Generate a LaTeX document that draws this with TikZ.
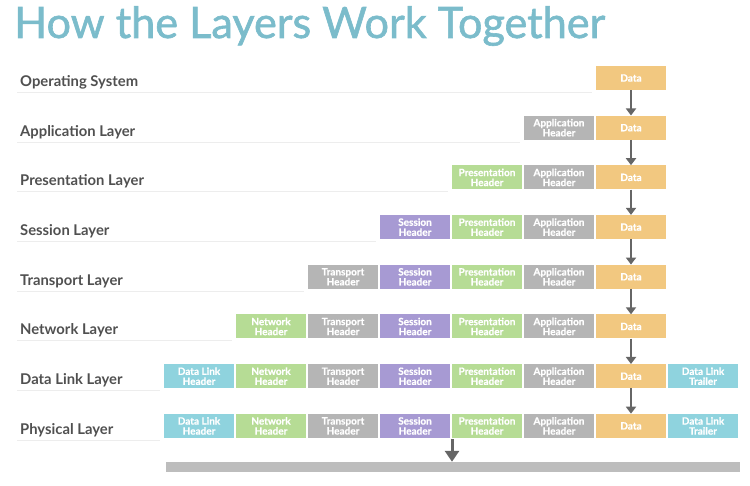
\documentclass[tikz,border=0pt]{standalone}
\usepackage{fontspec}
\setmainfont{Lato}
\newfontfamily\titlefont[FakeBold=1.4]{Lato}
\newfontfamily\pdufont[BoldFeatures={FakeBold=0.7}]{Lato}
\usetikzlibrary{arrows.meta}
\definecolor{titleblue}{HTML}{7BBCCB}
\definecolor{labelgray}{HTML}{505050}
\definecolor{dataorange}{HTML}{F2C880}
\definecolor{dlteal}{HTML}{8FD3DE}
\definecolor{hdrgreen}{HTML}{B6DC95}
\definecolor{hdrgray}{HTML}{B5B5B5}
\definecolor{sesspurple}{HTML}{A79AD3}
\definecolor{arrowgray}{HTML}{666666}
\definecolor{rulegray}{HTML}{EDEDED}
\definecolor{bargray}{HTML}{BDBDBD}

\tikzset{
  pdu/.style={minimum width=70pt,minimum height=24pt,inner sep=0pt,text=white,
    font=\pdufont\fontsize{10}{10}\selectfont\bfseries,align=center},
  layername/.style={anchor=base west,inner sep=0pt,text=labelgray,
    font=\fontsize{14.8}{14.8}\selectfont\bfseries},
  flow/.style={arrowgray,line width=2.5pt,-{Triangle[length=7pt,width=10pt]}},
  bigflow/.style={arrowgray,line width=3pt,-{Triangle[length=11pt,width=14pt]}}
}

\begin{document}
\begin{tikzpicture}[x=1pt,y=-1pt]
	\useasboundingbox (0,0) rectangle (750,486);
	% titre
	\node[anchor=base west,inner sep=0pt,text=titleblue,font=\titlefont\fontsize{43.2}{43.2}\selectfont] (title) at (14,38) {How the Layers Work Together};
	% les couches et leurs traits
	\foreach \j/\name/\first in {0/Operating System/6, 1/Application Layer/5, 2/Presentation Layer/4, 3/Session Layer/3, 4/Transport Layer/2, 5/Network Layer/1, 6/Data Link Layer/0, 7/Physical Layer/0} {
		\node[layername] (layer\j) at (20,{78+49.7*\j+8.5}) {\name};
		\draw[rulegray,line width=1pt] (17,{78+49.7*\j+14.5}) -- ({160+72*\first},{78+49.7*\j+14.5});
	}
	% donnees
	\foreach \j in {0,...,7}
		\node[pdu,fill=dataorange] (data\j) at (631,{78+49.7*\j}) {Data};
	% en-tetes
	\foreach \j/\first in {1/5, 2/4, 3/3, 4/2, 5/1, 6/0, 7/0}
		\foreach \i/\hcol/\htxt in {0/dlteal/Data Link\\Header, 1/hdrgreen/Network\\Header, 2/hdrgray/Transport\\Header, 3/sesspurple/Session\\Header, 4/hdrgreen/Presentation\\Header, 5/hdrgray/Application\\Header} {
			\ifnum\i<\first\else
				\node[pdu,fill=\hcol] (hdr\j\i) at ({199+72*\i},{78+49.7*\j}) {\htxt};
			\fi
		}
	\node[pdu,fill=dlteal] (trailer6) at (703,{78+49.7*6}) {Data Link\\Trailer};
	\node[pdu,fill=dlteal] (trailer7) at (703,{78+49.7*7}) {Data Link\\Trailer};
	% fleches
	\foreach \j [evaluate=\j as \k using int(\j+1)] in {0,...,6}
		\draw[flow] (data\j) -- (data\k);
	% le cable
	\node[fill=bargray,minimum width=574pt,minimum height=10pt,inner sep=0pt] (wire) at (453,467) {};
	\coordinate (drop) at (452,439);
	\draw[bigflow] (drop) -- (drop |- wire.north);
\end{tikzpicture}
\end{document}
